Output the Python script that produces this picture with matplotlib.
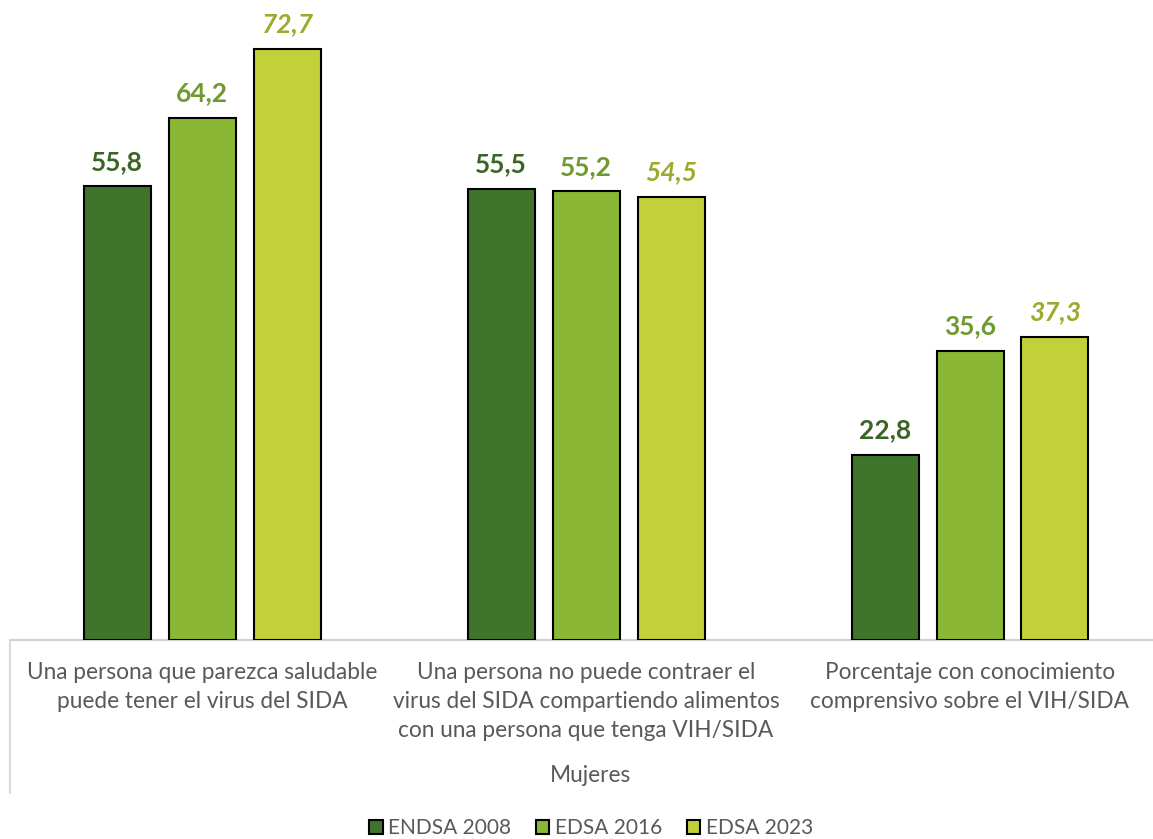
import matplotlib.pyplot as plt
import numpy as np
from matplotlib.patches import Patch
from matplotlib.lines import Line2D

plt.rcParams['font.family'] = ['Lato', 'DejaVu Sans']

categories = [
    "Una persona que parezca saludable\npuede tener el virus del SIDA",
    "Una persona no puede contraer el\nvirus del SIDA compartiendo alimentos\ncon una persona que tenga VIH/SIDA",
    "Porcentaje con conocimiento\ncomprensivo sobre el VIH/SIDA",
]
series = ["ENDSA 2008", "EDSA 2016", "EDSA 2023"]
endsa_2008 = [55.8, 55.5, 22.8]
edsa_2016 = [64.2, 55.2, 35.6]
edsa_2023 = [72.7, 54.5, 37.3]
group_label = "Mujeres"

bar_colors = ['#3F752B', '#8AB834', '#C2D03A']
label_colors = ['#3A6526', '#6E9A2F', '#9EAA2E']
label_styles = ['normal', 'normal', 'italic']
text_gray = '#595959'

W, H = 1153, 839
fig = plt.figure(figsize=(W / 100, H / 100), dpi=100)
# axes: left edge at x=10px, baseline at y=640px, top at y=0
ax = fig.add_axes([10 / W, 1 - 640 / H, (W - 10) / W, 640 / H])

px_per_cat = 384
ax.set_xlim(-0.5, -0.5 + (W - 10) / px_per_cat)
ax.set_ylim(0, 640 / 8.13)

x = np.arange(len(categories))
width = 67 / px_per_cat
step = 85 / px_per_cat

for i, vals in enumerate([endsa_2008, edsa_2016, edsa_2023]):
    pos = x + (i - 1) * step
    ax.bar(pos, vals, width, color=bar_colors[i], edgecolor='black', linewidth=1.5, zorder=3)
    for xp, v in zip(pos, vals):
        ax.annotate(f"{v:.1f}".replace('.', ','), (xp, v), xytext=(0, 9),
                    textcoords='offset points', ha='center', va='bottom',
                    fontsize=19, fontweight='bold', fontstyle=label_styles[i],
                    color=label_colors[i], annotation_clip=False)

for s in ['top', 'right', 'left']:
    ax.spines[s].set_visible(False)
ax.spines['bottom'].set_color('#D0D0D0')
ax.spines['bottom'].set_linewidth(1.5)
ax.set_xticks([])
ax.set_yticks([])

# category labels under the axis
for xi, cat in zip(x, categories):
    ax.text(xi, -22 / 640, cat, transform=ax.get_xaxis_transform(), ha='center', va='top',
            fontsize=16.3, color=text_gray, linespacing=1.47, clip_on=False)

fig.text(590 / W, 1 - 776 / H, group_label, ha='center', va='center', fontsize=16.3, color=text_gray)

# left border of the category axis
fig.add_artist(Line2D([10 / W, 10 / W], [1 - 640 / H, 1 - 793 / H],
                      transform=fig.transFigure, color='#D9D9D9', linewidth=1.5))

handles = [Patch(facecolor=c, edgecolor='black', linewidth=1.5) for c in bar_colors]
fig.legend(handles, series, loc='center', bbox_to_anchor=(591 / W, 1 - 828 / H), ncol=3,
           frameon=False, fontsize=15, handlelength=0.65, handleheight=0.65,
           handletextpad=0.25, columnspacing=1.2, labelcolor=text_gray)

fig.savefig('out.png', dpi=100)
